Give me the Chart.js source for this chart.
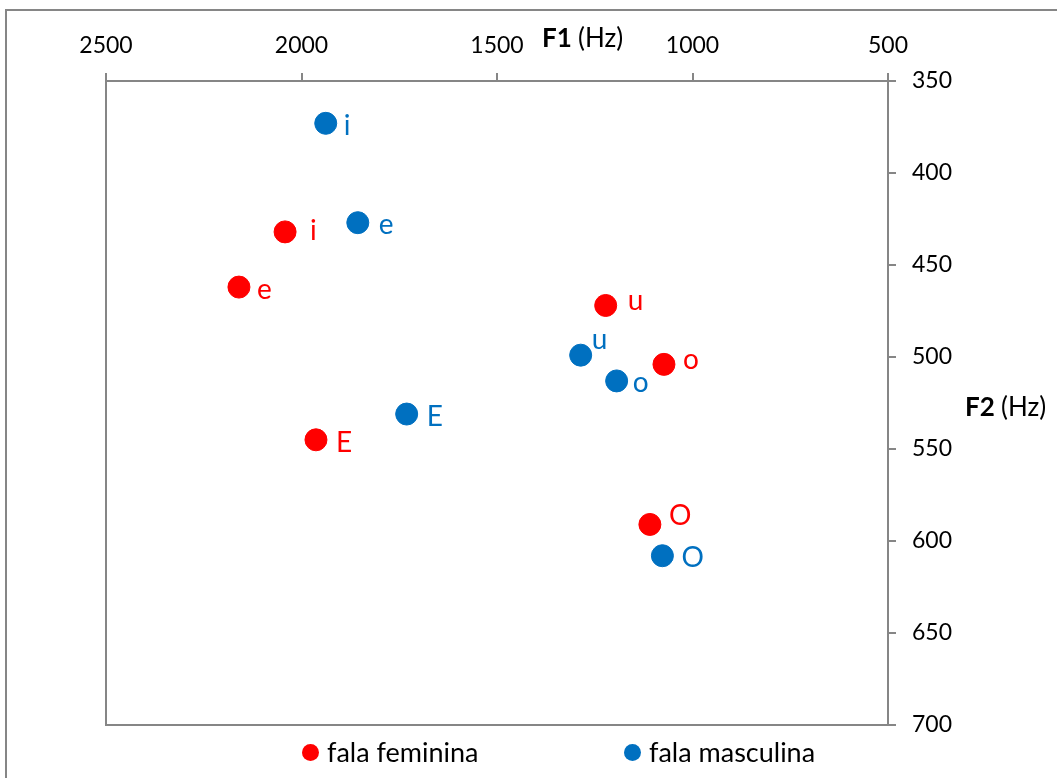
<!DOCTYPE html>
<html>
<head>
<meta charset="utf-8">
<script src="https://cdn.jsdelivr.net/npm/chart.js@4.4.1/dist/chart.umd.min.js"></script>
<style>
  body { margin: 0; background: #fff; overflow: hidden; font-family: Lato, sans-serif; }
  #wrap { position: relative; width: 1057px; height: 778px; }
  #frame { position: absolute; left: 5px; top: 9px; width: 1200px; height: 900px; border: 2px solid #868686; }
  .leg { position: absolute; top: 735px; font-size: 27px; color: #000; white-space: nowrap; }
  .leg span { display: inline-block; width: 17px; height: 17px; border-radius: 50%; margin-right: 8px; vertical-align: 1px; }
</style>
</head>
<body>
<div id="wrap">
  <div id="frame"></div>
  <canvas id="grafico"></canvas>
  <div class="leg" style="left:302px"><span style="background:#ff0000"></span>fala feminina</div>
  <div class="leg" style="left:624px"><span style="background:#0070c0"></span>fala masculina</div>
</div>
<script>
// vogais e formantes (Hz)
const vogais = ['i', 'e', 'E', 'u', 'o', 'O'];
const femF1 = [2042, 2160, 1963, 1222, 1073, 1109];
const femF2 = [432, 462, 545, 472, 504, 591];
const mascF1 = [1938, 1856, 1731, 1286, 1194, 1077];
const mascF2 = [373, 427, 531, 499, 513, 608];

// deslocamento dos rótulos em relação ao ponto (px)
const offFem = [[25, 8], [18, 12], [20, 12], [22, 5], [19, 5], [19, 1]];
const offMasc = [[18, 12], [21, 11], [20, 12], [11, -6], [16, 11], [19, 11]];

const pontos = (xs, ys) => xs.map((x, i) => ({ x: x, y: ys[i] }));

const rotulos = {
    id: 'rotulos',
    afterDatasetsDraw(chart) {
        const ctx = chart.ctx;
        ctx.save();
        ctx.font = '28px Lato';
        ctx.textAlign = 'left';
        ctx.textBaseline = 'alphabetic';
        chart.data.datasets.forEach((ds, di) => {
            const meta = chart.getDatasetMeta(di);
            const off = di === 0 ? offFem : offMasc;
            ctx.fillStyle = ds.backgroundColor;
            meta.data.forEach((pt, i) => {
                ctx.fillText(vogais[i], pt.x + off[i][0], pt.y + off[i][1]);
            });
        });
        ctx.restore();
    }
};

const moldura = {
    id: 'moldura',
    afterDraw(chart) {
        const ctx = chart.ctx, a = chart.chartArea;
        ctx.save();
        ctx.strokeStyle = '#868686';
        ctx.lineWidth = 2;
        ctx.strokeRect(a.left, a.top, a.right - a.left, a.bottom - a.top);
        // títulos dos eixos
        ctx.fillStyle = '#000';
        ctx.textBaseline = 'alphabetic';
        ctx.textAlign = 'left';
        const titulo = (neg, resto, x, y) => {
            ctx.font = 'bold 26px Lato';
            ctx.fillText(neg, x, y);
            const w = ctx.measureText(neg + ' ').width;
            ctx.font = '26px Lato';
            ctx.fillText(resto, x + w, y);
        };
        titulo('F1', '(Hz)', 542, 47);
        titulo('F2', '(Hz)', 965, 416);
        ctx.restore();
    }
};

new Chart(document.getElementById('grafico'), {
    type: 'scatter',
    data: {
        datasets: [
            { label: 'fala feminina', data: pontos(femF1, femF2), backgroundColor: '#ff0000', borderColor: '#ff0000', pointRadius: 11, pointHoverRadius: 11 },
            { label: 'fala masculina', data: pontos(mascF1, mascF2), backgroundColor: '#0070c0', borderColor: '#0070c0', pointRadius: 11, pointHoverRadius: 11 }
        ]
    },
    options: {
        responsive: true,
        maintainAspectRatio: false,
        animation: false,
        layout: { padding: { left: 106, right: 0, top: 0, bottom: 53 } },
        plugins: { legend: { display: false }, tooltip: { enabled: false } },
        scales: {
            x: {
                type: 'linear', position: 'top', reverse: true, min: 500, max: 2500,
                afterFit: s => { s.height = 81; },
                ticks: { stepSize: 500, color: '#000', font: { family: 'Lato', size: 23 }, padding: 14, maxRotation: 0, callback: v => String(v) },
                grid: { drawOnChartArea: false, drawTicks: true, tickLength: 8, color: '#868686', lineWidth: 2 },
                border: { display: false }
            },
            y: {
                type: 'linear', position: 'right', reverse: true, min: 350, max: 700,
                afterFit: s => { s.width = 169; },
                ticks: { stepSize: 50, color: '#000', font: { family: 'Lato', size: 23 }, padding: 16, callback: v => String(v) },
                grid: { drawOnChartArea: false, drawTicks: true, tickLength: 8, color: '#868686', lineWidth: 2 },
                border: { display: false }
            }
        }
    },
    plugins: [rotulos, moldura]
});
</script>
</body>
</html>
